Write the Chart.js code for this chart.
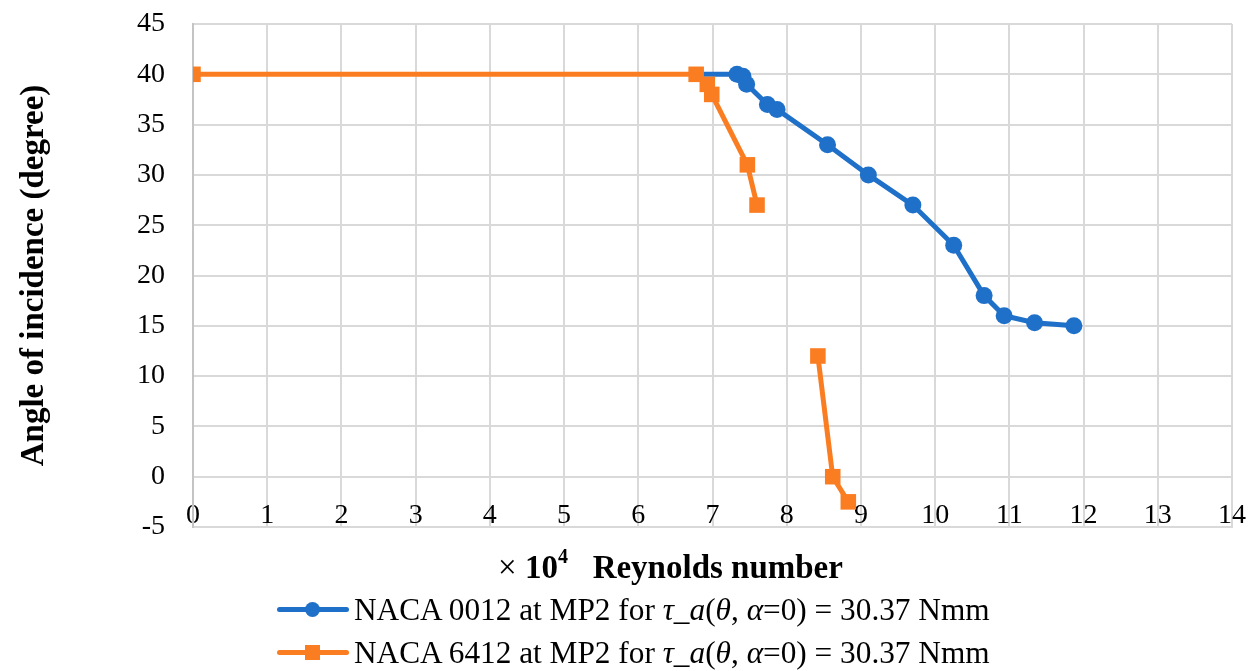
<!DOCTYPE html>
<html>
<head>
<meta charset="utf-8">
<script src="https://cdn.jsdelivr.net/npm/chart.js@4.4.1/dist/chart.umd.min.js"></script>
<style>
  html, body { margin: 0; padding: 0; background: #ffffff; }
  #wrap { position: relative; width: 1260px; height: 671px; overflow: hidden; background: #fff; }
  #chart { position: absolute; left: 0; top: 0; }
  #xtitle { position: absolute; left: 498px; top: 546px; font-family: 'Liberation Serif', 'Times New Roman', serif; font-weight: bold; font-size: 33px; line-height: 42px; color: #000; white-space: nowrap; }
  #xtitle .times { font-weight: normal; }
  #xtitle sup { font-size: 20px; line-height: 0; position: relative; top: -3px; }
  #legend { position: absolute; left: 277px; top: 588px; font-family: 'Liberation Serif', 'Times New Roman', serif; font-size: 31.3px; color: #000; }
  .row { height: 43px; line-height: 43px; white-space: nowrap; display: flex; align-items: center; }
  .sample { position: relative; width: 72px; height: 43px; margin-right: 5px; flex: none; }
  .sample .ln { position: absolute; left: 0; right: 0; top: 19px; height: 5px; border-radius: 3px; }
  .sample .mk { position: absolute; left: 28px; top: 14px; width: 15px; height: 15px; }
  .row i { font-style: italic; }
</style>
</head>
<body>
<div id="wrap">
  <canvas id="chart" width="1260" height="671"></canvas>
  <div id="xtitle"><span class="times">×</span> 10<sup>4</sup>&nbsp;&nbsp;&nbsp;Reynolds number</div>
  <div id="legend">
    <div class="row"><span class="sample"><span class="ln" style="background:#1f70c8"></span><span class="mk" style="background:#1f70c8;border-radius:50%"></span></span><span id="lab0"></span></div>
    <div class="row"><span class="sample"><span class="ln" style="background:#fb7d22"></span><span class="mk" style="background:#fb7d22"></span></span><span id="lab1"></span></div>
  </div>
</div>
<script>
// ---- data ----
const seriesNames = [
  'NACA 0012 at MP2 for <i>τ</i>_<i>a</i>(<i>θ</i>, <i>α</i>=0) = 30.37 Nmm',
  'NACA 6412 at MP2 for <i>τ</i>_<i>a</i>(<i>θ</i>, <i>α</i>=0) = 30.37 Nmm'
];
const naca0012Re  = [6.78, 7.33, 7.41, 7.46, 7.74, 7.87, 8.55, 9.10, 9.70, 10.25, 10.66, 10.93, 11.34, 11.87];
const naca0012Ang = [40.0, 40.0, 39.8, 39.0, 37.0, 36.5, 33.0, 30.0, 27.0, 23.0, 18.0, 16.0, 15.3, 15.0];
const naca6412Re  = [0, 6.78, 6.93, 6.99, 7.47, 7.60, null, 8.42, 8.62, 8.83];
const naca6412Ang = [40.0, 40.0, 39.0, 38.0, 31.0, 27.0, null, 12.0, 0.0, -2.5];
const xTicks = [0,1,2,3,4,5,6,7,8,9,10,11,12,13,14];
const yTicks = [-5,0,5,10,15,20,25,30,35,40,45];

document.getElementById('lab0').innerHTML = seriesNames[0];
document.getElementById('lab1').innerHTML = seriesNames[1];

const toPts = (xs, ys) => xs.map((x, i) => ({ x: x, y: ys[i] }));

const BLUE = '#1f70c8';
const ORANGE = '#fb7d22';
const GRID = '#d9d9d9';
const FONT = "'Liberation Serif', 'Times New Roman', serif";

new Chart(document.getElementById('chart'), {
  type: 'line',
  data: {
    datasets: [
      {
        label: 'NACA 0012',
        data: toPts(naca0012Re, naca0012Ang),
        borderColor: BLUE, backgroundColor: BLUE,
        borderWidth: 5, pointStyle: 'circle',
        pointRadius: (c) => (c.dataIndex === 0 ? 0 : 8.5),
        pointBorderWidth: 0, pointBackgroundColor: BLUE,
        tension: 0, spanGaps: false, order: 2
      },
      {
        label: 'NACA 6412',
        data: toPts(naca6412Re, naca6412Ang),
        borderColor: ORANGE, backgroundColor: ORANGE,
        borderWidth: 5, pointStyle: 'rect', pointRadius: 11,
        pointBorderWidth: 0, pointBackgroundColor: ORANGE,
        tension: 0, spanGaps: false, order: 1
      }
    ]
  },
  options: {
    responsive: false,
    animation: false,
    events: [],
    layout: { padding: { left: 0, right: 28, top: 24, bottom: 144 } },
    plugins: { legend: { display: false }, tooltip: { enabled: false }, title: { display: false } },
    scales: {
      x: {
        type: 'linear',
        position: 'bottom',
        min: 0, max: 14,
        afterBuildTicks: (s) => { s.ticks = xTicks.map(v => ({ value: v })); },
        afterFit: (s) => { s.height = 0; s.paddingLeft = 0; s.paddingRight = 0; },
        grid: { color: GRID, lineWidth: 2, drawTicks: false },
        border: { color: GRID, width: 2 },
        ticks: { color: '#000', font: { family: FONT, size: 28 }, mirror: true, padding: -5, maxRotation: 0, autoSkip: false }
      },
      y: {
        type: 'linear',
        position: 'left',
        min: -5, max: 45,
        afterBuildTicks: (s) => { s.ticks = yTicks.map(v => ({ value: v })); },
        afterFit: (s) => { s.width = 193; s.paddingTop = 0; s.paddingBottom = 0; },
        grid: { color: GRID, lineWidth: 2, drawTicks: false },
        border: { color: '#c4c4c4', width: 2 },
        ticks: { color: '#000', font: { family: FONT, size: 28 }, padding: 28 },
        title: { display: true, text: 'Angle of incidence (degree)', color: '#000', font: { family: FONT, size: 33, weight: 'bold' }, padding: { top: 15, bottom: 0 } }
      }
    }
  }
});
</script>
</body>
</html>
